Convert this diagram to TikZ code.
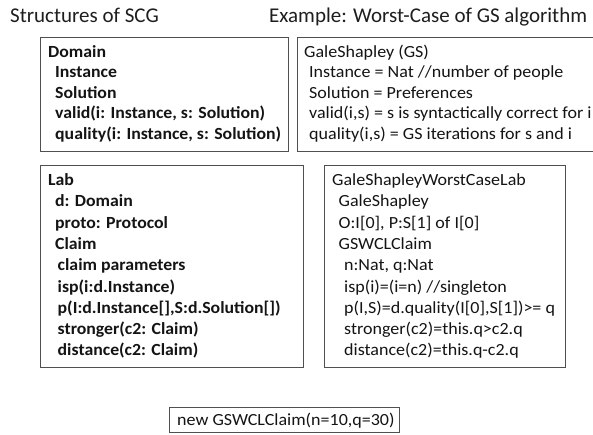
\documentclass[tikz,border=0pt]{standalone}
\usepackage{fontspec}
\setmainfont{Carlito}
\newfontfamily\boxregfont{Carlito}[FakeStretch=1.06]
\newfontfamily\boxbffont{Carlito}[FakeStretch=1.045]
\begin{document}
\begin{tikzpicture}[x=1pt,y=-1pt,
  boxline/.style={draw={rgb,255:red,80;green,80;blue,80}, line width=0.9pt},
  ttl/.style={anchor=base west, inner sep=0pt, font=\fontsize{21}{25}\selectfont, text={rgb,255:red,30;green,30;blue,30}},
  bt/.style={anchor=base west, inner sep=0pt, font=\boxbffont\bfseries\fontsize{17}{20}\selectfont, text={rgb,255:red,20;green,20;blue,20}},
  nt/.style={anchor=base west, inner sep=0pt, font=\boxregfont\fontsize{17}{20}\selectfont, text={rgb,255:red,20;green,20;blue,20}}]
\useasboundingbox (0,0) rectangle (593,434);
\clip (0,0) rectangle (593,434);
\fill[white] (0,0) rectangle (593,434);
% titles
\node[ttl] (t1) at (10,22) {Structures of SCG};
\node[ttl] (t2) at (269,22) {Example: Worst-Case of GS algorithm};
% boxes
\draw[boxline] (40.5,37) rectangle (288.5,151.5);
\draw[boxline] (297.5,37) rectangle (610,151.5);
\draw[boxline] (40.5,165) rectangle (303,367);
\draw[boxline] (324,165) rectangle (565,367);
\draw[boxline] (169,407) rectangle (399,432.5);
% Domain box
\node[bt] (d1) at (48,57) {Domain};
\node[bt] (d2) at (55,77.5) {Instance};
\node[bt] (d3) at (55,98) {Solution};
\node[bt] (d4) at (55,118.5) {valid(i: Instance, s: Solution)};
\node[bt] (d5) at (55,139) {quality(i: Instance, s: Solution)};
% GS box
\node[nt] (g1) at (304,57) {GaleShapley (GS)};
\node[nt] (g2) at (309,77.5) {Instance = Nat //number of people};
\node[nt] (g3) at (309,98) {Solution = Preferences};
\node[nt] (g4) at (309,118.5) {valid(i,s) = s is syntactically correct for i};
\node[nt] (g5) at (309,139) {quality(i,s) = GS iterations for s and i};
% Lab box
\node[bt] (l1) at (48,185.5) {Lab};
\node[bt] (l2) at (55,206.8) {d: Domain};
\node[bt] (l3) at (55,228.1) {proto: Protocol};
\node[bt] (l4) at (55,249.4) {Claim};
\node[bt] (l5) at (57.5,270.7) {claim parameters};
\node[bt] (l6) at (57.5,292) {isp(i:d.Instance)};
\node[bt] (l7) at (57.5,313.3) {p(I:d.Instance[],S:d.Solution[])};
\node[bt] (l8) at (57.5,334.6) {stronger(c2: Claim)};
\node[bt] (l9) at (57.5,355.9) {distance(c2: Claim)};
% GSWCL box
\node[nt] (w1) at (332,185.5) {GaleShapleyWorstCaseLab};
\node[nt] (w2) at (338.5,206.8) {GaleShapley};
\node[nt] (w3) at (338.5,228.1) {O:I[0], P:S[1] of I[0]};
\node[nt] (w4) at (338.5,249.4) {GSWCLClaim};
\node[nt] (w5) at (344,270.7) {n:Nat, q:Nat};
\node[nt] (w6) at (344,292) {isp(i)=(i=n) //singleton};
\node[nt] (w7) at (344,313.3) {p(I,S)=d.quality(I[0],S[1])>= q};
\node[nt] (w8) at (344,334.6) {stronger(c2)=this.q>c2.q};
\node[nt] (w9) at (344,355.9) {distance(c2)=this.q-c2.q};
% new
\node[nt] (n1) at (177,425) {new GSWCLClaim(n=10,q=30)};
\end{tikzpicture}
\end{document}
